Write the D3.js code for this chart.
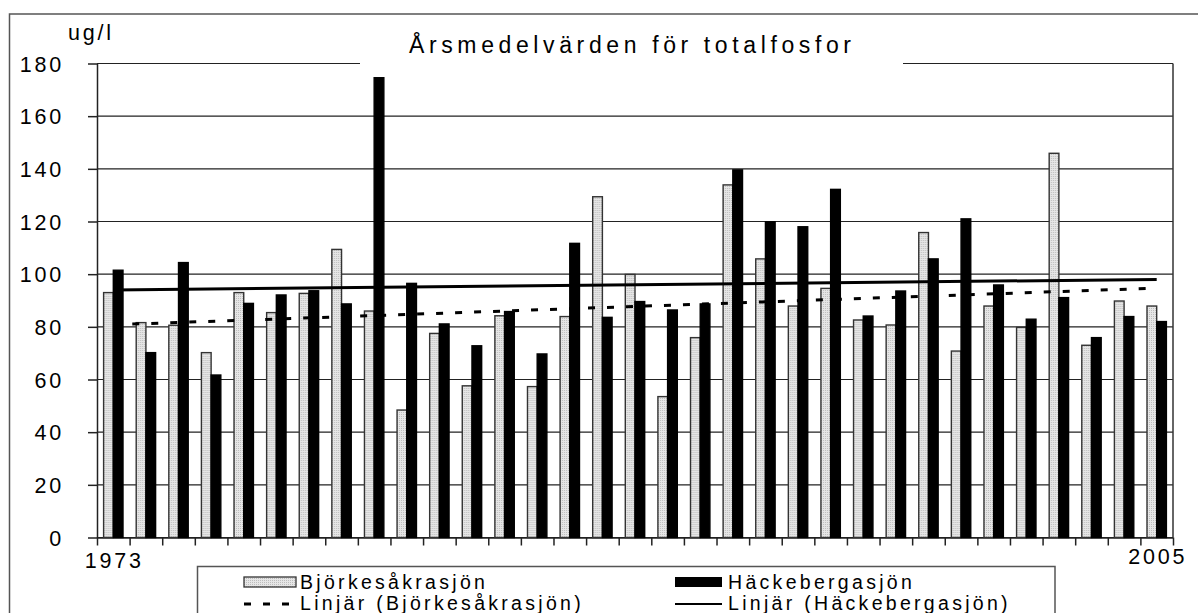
<!DOCTYPE html>
<html>
<head>
<meta charset="utf-8">
<script src="https://cdn.jsdelivr.net/npm/d3@7"></script>
<style>
  body { margin: 0; background: #fff; }
  text { font-family: "Liberation Sans", Arial, sans-serif; fill: #000; }
</style>
</head>
<body>
<script>
// data
var years = d3.range(1973, 2006);
var bjorke = [93, 81.6, 80.6, 70.2, 93, 85.4, 92.7, 109.4, 86, 48.4, 77.5, 57.6, 84.2, 57.3, 83.9, 129.4,
    99.9, 53.5, 75.9, 133.9, 105.8, 87.9, 94.6, 82.6, 80.7, 115.8, 70.8, 87.9, 79.8, 145.9, 73, 89.8, 87.9];
var hacke = [101.5, 70.2, 104.4, 61.7, 88.9, 92.1, 93.7, 88.7, 174.6, 96.5, 81.1, 72.8, 85.8, 69.7, 111.7, 83.6,
    89.6, 86.4, 88.7, 139.6, 119.9, 118, 132.2, 84.1, 93.6, 105.8, 121, 95.9, 82.9, 91.1, 75.9, 83.9, 82];
var seriesNames = ["Björkesåkrasjön", "Häckebergasjön"];
var trendNames = ["Linjär (Björkesåkrasjön)", "Linjär (Häckebergasjön)"];
var yTicks = [0, 20, 40, 60, 80, 100, 120, 140, 160, 180];
var xLabels = ["1973", "2005"];
var title = "Årsmedelvärden för totalfosfor";
var unit = "ug/l";

var width = 1198,
    height = 613,
    plotLeft = 97,
    plotRight = 1173,
    plotTop = 63.5,
    plotBottom = 537.5
;

var svg = d3.select("body").append("svg")
    .attr("width", width)
    .attr("height", height)
;

var defs = svg.append("defs");
var pat = defs.append("pattern")
    .attr("id", "dots")
    .attr("width", 2)
    .attr("height", 2)
    .attr("patternUnits", "userSpaceOnUse")
;
pat.append("rect").attr("width", 2).attr("height", 2).attr("fill", "#e6e6e6");
pat.append("rect").attr("width", 1).attr("height", 1).attr("fill", "#bdbdbd");

// outer chart border
svg.append("rect")
    .attr("x", 9.5)
    .attr("y", 14)
    .attr("width", 1200)
    .attr("height", 700)
    .attr("fill", "none")
    .attr("stroke", "#555")
    .attr("stroke-width", 1.5)
;

var y = d3.scaleLinear()
    .domain([0, 180])
    .range([plotBottom, plotTop])
;

var x0 = d3.scaleBand()
    .domain(years)
    .range([plotLeft, plotRight])
    .paddingInner(0.405)
    .paddingOuter(0.2025)
;

var x1 = d3.scaleBand()
    .domain([0, 1])
    .range([0, x0.bandwidth()])
;

var xb = d3.scaleLinear()
    .domain([0, years.length])
    .range([plotLeft, plotRight])
;

// gridlines
svg.append("g")
    .selectAll("line")
    .data(yTicks)
    .join("line")
    .attr("x1", plotLeft)
    .attr("x2", plotRight)
    .attr("y1", d => y(d))
    .attr("y2", d => y(d))
    .attr("stroke", "#222")
    .attr("stroke-width", 1.2)
;

// right edge of plot
svg.append("line")
    .attr("x1", plotRight)
    .attr("x2", plotRight)
    .attr("y1", plotTop)
    .attr("y2", plotBottom)
    .attr("stroke", "#333")
    .attr("stroke-width", 1.5)
;

// y axis
var yAxis = d3.axisLeft(y)
    .tickValues(yTicks)
    .tickSize(9)
    .tickSizeOuter(0)
    .tickPadding(0)
    .tickFormat(d3.format("d"))
;
var gy = svg.append("g")
    .attr("transform", `translate(${plotLeft},0)`)
    .call(yAxis)
;
gy.selectAll("path, line").attr("stroke", "#222").attr("stroke-width", 1.5);
gy.selectAll("text")
    .attr("x", -33)
    .attr("dy", "0.36em")
    .style("font-size", "21.5px")
    .style("letter-spacing", "2.8px")
    .style("font-family", "'Liberation Sans', Arial, sans-serif")
;

// x axis, ticks between categories
var xAxis = d3.axisBottom(xb)
    .tickValues(d3.range(years.length + 1))
    .tickSize(8)
    .tickSizeOuter(0)
    .tickFormat("")
;
var gx = svg.append("g")
    .attr("transform", `translate(0,${plotBottom})`)
    .call(xAxis)
;
gx.selectAll("path, line").attr("stroke", "#222").attr("stroke-width", 1.5);

svg.selectAll(".xlab")
    .data(xLabels)
    .join("text")
    .attr("class", "xlab")
    .attr("x", d => x0(+d) + x0.bandwidth() / 2 + 1)
    .attr("y", (d, i) => i == 0 ? 567.5 : 564)
    .attr("text-anchor", "middle")
    .style("font-size", "21.5px")
    .style("letter-spacing", "2.8px")
    .text(d => d)
;

// bars
var rows = years.map((yr, i) => ({ year: yr, vals: [bjorke[i], hacke[i]] }));
var groups = svg.append("g")
    .selectAll("g")
    .data(rows)
    .join("g")
    .attr("transform", d => `translate(${x0(d.year)},0)`)
;
groups.selectAll("rect")
    .data(d => d.vals)
    .join("rect")
    .attr("x", (d, i) => x1(i))
    .attr("y", d => y(d))
    .attr("width", x1.bandwidth())
    .attr("height", d => plotBottom - y(d))
    .attr("fill", (d, i) => i == 0 ? "url(#dots)" : "#000")
    .attr("stroke", (d, i) => i == 0 ? "#333" : "#000")
    .attr("stroke-width", 1.4)
;

// linear trend lines (least squares)
function trend(vals) {
    var n = vals.length;
    var mx = d3.mean(d3.range(n)), my = d3.mean(vals);
    var sxy = d3.sum(vals, (v, i) => (i - mx) * (v - my));
    var sxx = d3.sum(d3.range(n), i => (i - mx) * (i - mx));
    var b = sxy / sxx, a = my - b * mx;
    return [0, n - 1].map(i => ({ i: i, v: a + b * i }));
}
var line = d3.line()
    .x(d => x0(years[d.i]) + x0.bandwidth() / 2)
    .y(d => y(d.v))
;
svg.append("path")
    .datum(trend(bjorke))
    .attr("d", line)
    .attr("fill", "none")
    .attr("stroke", "#000")
    .attr("stroke-width", 3)
    .attr("stroke-dasharray", "7,12")
;
svg.append("path")
    .datum(trend(hacke))
    .attr("d", line)
    .attr("fill", "none")
    .attr("stroke", "#000")
    .attr("stroke-width", 3)
;

// title with white box over the top gridline
svg.append("rect")
    .attr("x", 360)
    .attr("y", 22)
    .attr("width", 543)
    .attr("height", 46)
    .attr("fill", "#fff")
;
svg.append("text")
    .attr("x", 409)
    .attr("y", 52.5)
    .attr("textLength", 442)
    .attr("lengthAdjust", "spacing")
    .style("font-size", "23px")
    .text(title)
;

svg.append("text")
    .attr("x", 68)
    .attr("y", 40)
    .style("font-size", "21.5px")
    .style("letter-spacing", "2.8px")
    .text(unit)
;

// legend
svg.append("rect")
    .attr("x", 197.5)
    .attr("y", 566.5)
    .attr("width", 857.5)
    .attr("height", 80)
    .attr("fill", "#fff")
    .attr("stroke", "#555")
    .attr("stroke-width", 1.5)
;
var legX = [244, 675];
svg.append("rect")
    .attr("x", legX[0])
    .attr("y", 577)
    .attr("width", 52)
    .attr("height", 10)
    .attr("fill", "url(#dots)")
    .attr("stroke", "#333")
    .attr("stroke-width", 1.3)
;
svg.append("rect")
    .attr("x", legX[1])
    .attr("y", 577)
    .attr("width", 47)
    .attr("height", 10)
    .attr("fill", "#000")
;
svg.append("line")
    .attr("x1", legX[0])
    .attr("x2", legX[0] + 52)
    .attr("y1", 604)
    .attr("y2", 604)
    .attr("stroke", "#000")
    .attr("stroke-width", 3)
    .attr("stroke-dasharray", "7,12")
;
svg.append("line")
    .attr("x1", legX[1])
    .attr("x2", legX[1] + 47)
    .attr("y1", 604)
    .attr("y2", 604)
    .attr("stroke", "#000")
    .attr("stroke-width", 2)
;
var legTexts = [
    { t: seriesNames[0], x: 300, y: 588.5 },
    { t: seriesNames[1], x: 728, y: 588.5 },
    { t: trendNames[0], x: 300, y: 610 },
    { t: trendNames[1], x: 728, y: 610 }
];
svg.selectAll(".leg")
    .data(legTexts)
    .join("text")
    .attr("class", "leg")
    .attr("x", d => d.x)
    .attr("y", d => d.y)
    .style("font-size", "19.5px")
    .style("letter-spacing", "3.3px")
    .text(d => d.t)
;
</script>
</body>
</html>
